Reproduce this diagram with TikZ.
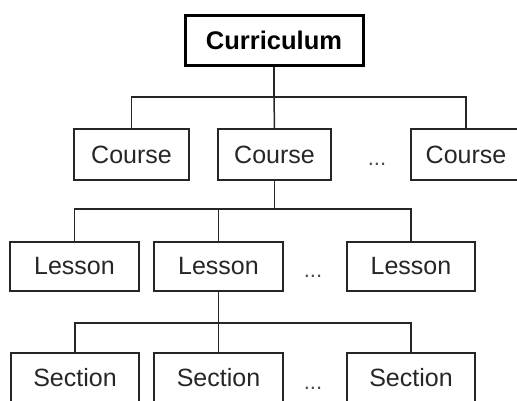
\documentclass[tikz,border=0pt]{standalone}
\usepackage{fontspec}
\setmainfont{Liberation Sans}
\begin{document}
\begin{tikzpicture}[x=1pt,y=-1pt,
  box/.style={draw=black!85,line width=1.5pt,inner sep=0pt,font=\fontsize{25}{29}\selectfont,text=black!85},
  rootbox/.style={draw=black,line width=3pt,inner sep=0pt,font=\bfseries\fontsize{25.5}{29}\selectfont},
  link/.style={draw=black!85,line width=1.5pt},
  gap/.style={font=\fontsize{22}{26}\selectfont,text=black!70,inner sep=0pt,anchor=base}]
\useasboundingbox (0,0) rectangle (517,400);
\node[rootbox,minimum width=178pt,minimum height=50pt] (cur) at (274,40) {Curriculum};
% courses
\node[box,minimum width=115pt,minimum height=51pt] (c1) at (131.5,154.5) {Course};
\node[box,minimum width=113pt,minimum height=51pt] (c2) at (274.5,154.5) {Course};
\node[box,minimum width=110pt,minimum height=51pt] (c3) at (466,154.5) {Course};
\node[gap] (d1) at (377,165) {...};
% lessons
\node[box,minimum width=129pt,minimum height=49pt] (l1) at (74.5,266.5) {Lesson};
\node[box,minimum width=129pt,minimum height=49pt] (l2) at (218.5,266.5) {Lesson};
\node[box,minimum width=128pt,minimum height=49pt] (l3) at (411,266.5) {Lesson};
\node[gap] (d2) at (313,277) {...};
% sections
\node[box,minimum width=128pt,minimum height=49pt] (s1) at (75,377.5) {Section};
\node[box,minimum width=129pt,minimum height=49pt] (s2) at (218.5,377.5) {Section};
\node[box,minimum width=128pt,minimum height=49pt] (s3) at (411,377.5) {Section};
\node[gap] (d3) at (313,389) {...};
% connectors
\coordinate (b1) at (cur.south |- 0,97);
\draw[link] (cur.south) -- (b1);
\draw[link] (c1.north) |- (b1) -| (c3.north);
\draw[link] (b1) -- (c2.north);
\coordinate (b2) at (c2.south |- 0,209);
\draw[link] (c2.south) -- (b2);
\draw[link] (l1.north) |- (b2) -| (l3.north);
\draw[link] (l2.north) -- (l2.north |- b2);
\coordinate (b3) at (l2.south |- 0,323);
\draw[link] (l2.south) -- (b3);
\draw[link] (s1.north) |- (b3) -| (s3.north);
\draw[link] (b3) -- (s2.north);
\end{tikzpicture}
\end{document}
